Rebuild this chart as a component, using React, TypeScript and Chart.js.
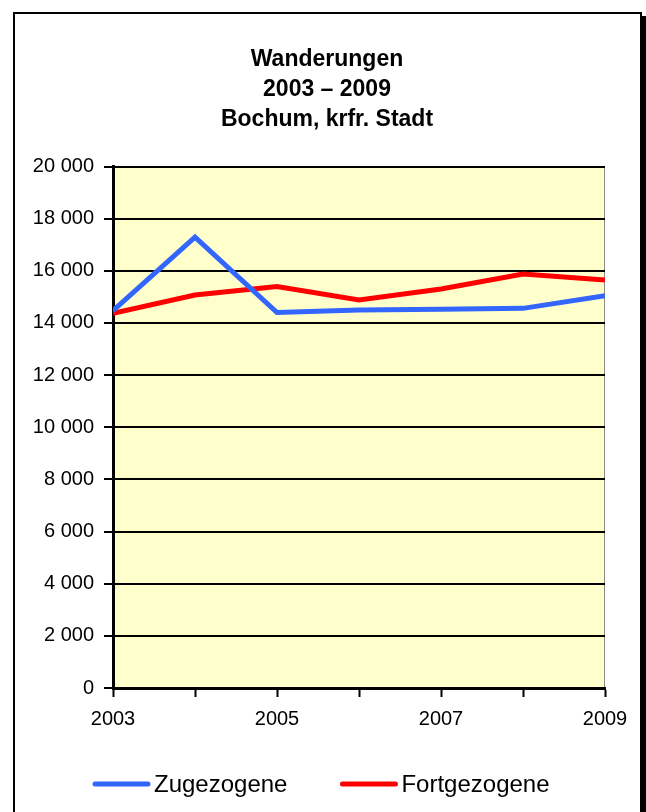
import React, { useEffect, useRef } from "react";
import { Chart, registerables } from "chart.js";

Chart.register(...registerables);

// ---- data ----
const years = ["2003", "2004", "2005", "2006", "2007", "2008", "2009"];
const shownYearLabels = ["2003", "2005", "2007", "2009"];
const zugezogene = [14470, 17290, 14400, 14500, 14530, 14560, 15040];
const fortgezogene = [14370, 15070, 15400, 14880, 15300, 15880, 15650];
const seriesNames = ["Zugezogene", "Fortgezogene"];
const seriesColors = ["#3366FF", "#FF0000"];
const titleLines = ["Wanderungen", "2003 – 2009", "Bochum, krfr. Stadt"];
const yMin = 0;
const yMax = 20000;
const yStep = 2000;

const FONT = "'Liberation Sans', Arial, sans-serif";

const formatThousands = (v: number) =>
  String(v).replace(/\B(?=(\d{3})+(?!\d))/g, " ");

const plotBg = {
  id: "plotBg",
  beforeDraw(chart: any) {
    const { ctx, chartArea: a } = chart;
    ctx.save();
    ctx.fillStyle = "#FFFFCC";
    ctx.fillRect(a.left, a.top, a.right - a.left, a.bottom - a.top);
    ctx.strokeStyle = "#8c8c8c";
    ctx.lineWidth = 1;
    ctx.beginPath();
    ctx.moveTo(a.right - 0.5, a.top);
    ctx.lineTo(a.right - 0.5, a.bottom);
    ctx.stroke();
    ctx.restore();
  },
};

const lineLegend = {
  id: "lineLegend",
  afterDraw(chart: any) {
    const ctx = chart.ctx;
    ctx.save();
    ctx.font = `24px ${FONT}`;
    ctx.textBaseline = "middle";
    let x = 93;
    const y = 784;
    chart.data.datasets.forEach((ds: any) => {
      ctx.strokeStyle = ds.borderColor;
      ctx.lineWidth = 5;
      ctx.lineCap = "round";
      ctx.beginPath();
      ctx.moveTo(x + 2, y);
      ctx.lineTo(x + 55, y);
      ctx.stroke();
      ctx.fillStyle = "#000";
      ctx.fillText(ds.label, x + 61, y + 1);
      x = x + 61 + ctx.measureText(ds.label).width + 53;
    });
    ctx.restore();
  },
};

export default function App() {
  const ref = useRef<HTMLCanvasElement | null>(null);

  useEffect(() => {
    if (!ref.current) return;
    Chart.defaults.font.family = FONT;
    const chart = new Chart(ref.current, {
      type: "line",
      data: {
        labels: years,
        datasets: [
          {
            label: seriesNames[0],
            data: zugezogene,
            borderColor: seriesColors[0],
            backgroundColor: seriesColors[0],
            borderWidth: 5,
            pointRadius: 0,
            tension: 0,
            clip: 0,
          },
          {
            label: seriesNames[1],
            data: fortgezogene,
            borderColor: seriesColors[1],
            backgroundColor: seriesColors[1],
            borderWidth: 5,
            pointRadius: 0,
            tension: 0,
            clip: 0,
          },
        ],
      },
      options: {
        responsive: false,
        animation: false,
        layout: { padding: { left: 13, right: 5, top: 0, bottom: 74 } },
        plugins: {
          legend: { display: false },
          tooltip: { enabled: false },
          title: {
            display: true,
            text: titleLines,
            color: "#000",
            font: { family: FONT, size: 23, weight: "bold", lineHeight: 30 / 23 },
            padding: { top: 44.5, bottom: 32 },
          },
        },
        scales: {
          x: {
            type: "category",
            offset: false,
            grid: {
              drawOnChartArea: false,
              drawTicks: true,
              tickLength: 9,
              tickWidth: 2,
              tickColor: "#000",
            },
            border: { display: true, color: "#000", width: 3 },
            ticks: {
              autoSkip: false,
              maxRotation: 0,
              minRotation: 0,
              padding: 10,
              color: "#000",
              font: { family: FONT, size: 20 },
              callback: (_v: any, i: number) =>
                shownYearLabels.includes(years[i]) ? years[i] : "",
            },
            afterFit: (s: any) => {
              s.height = 50;
            },
          },
          y: {
            min: yMin,
            max: yMax,
            grid: {
              color: "#000",
              lineWidth: 2,
              tickLength: 9,
              tickWidth: 2,
              tickColor: "#000",
            },
            border: { display: true, color: "#000", width: 3 },
            ticks: {
              stepSize: yStep,
              padding: 10,
              color: "#000",
              font: { family: FONT, size: 20 },
              callback: (v: any) => formatThousands(Number(v)),
            },
            afterFit: (s: any) => {
              s.width = 100;
            },
          },
          spacer: {
            type: "linear",
            position: "right",
            display: true,
            grid: { display: false, drawTicks: false },
            border: { display: false },
            ticks: { display: false },
            afterFit: (s: any) => {
              s.width = 36;
            },
          },
        },
      },
      plugins: [plotBg, lineLegend],
    } as any);
    return () => chart.destroy();
  }, []);

  return (
    <div style={{ position: "absolute", left: 0, top: 0, width: 646, height: 812, overflow: "hidden", background: "#fff" }}>
      <div
        style={{
          position: "absolute",
          left: 13,
          top: 12,
          width: 629,
          height: 900,
          boxSizing: "border-box",
          border: "2px solid #000",
          boxShadow: "4px 4px 0 #000",
          background: "#fff",
        }}
      />
      <canvas
        ref={ref}
        width={646}
        height={812}
        style={{ position: "absolute", left: 0, top: 0, width: 646, height: 812 }}
      />
    </div>
  );
}
